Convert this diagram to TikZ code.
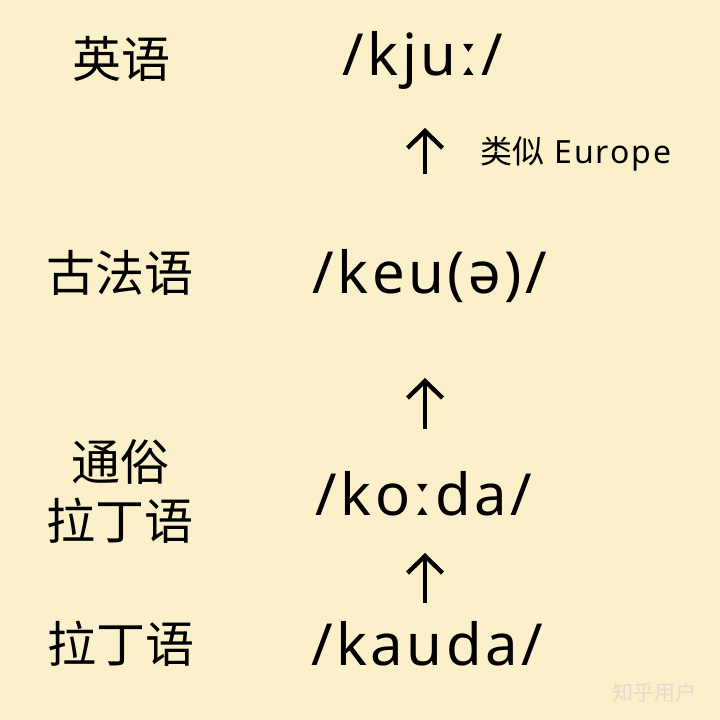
\documentclass[tikz,border=0pt]{standalone}
\usepackage{fontspec}
\setmainfont{Noto Sans}
\newfontfamily\ipafont[LetterSpace=6]{Noto Sans}
\newfontfamily\cjk{Noto Sans CJK SC}
\usetikzlibrary{arrows.meta,positioning}
\definecolor{paper}{RGB}{251,240,202}
\definecolor{mark}{RGB}{226,221,205}

\begin{document}
\begin{tikzpicture}[x=1pt,y=-1pt,
    lang/.style={font=\cjk\fontsize{49}{59}\selectfont,align=center,inner sep=0pt},
    ipa/.style={font=\ipafont\fontsize{58}{60}\selectfont,anchor=base,inner sep=0pt},
    upline/.style={line width=4.3pt,-{Straight Barb[length=17pt,width=35pt]}}]
    \fill[paper] (0,0) rectangle (720,720);
    \useasboundingbox (0,0) rectangle (720,720);
    % language names
    \node[lang] (en) at (121,59) {英语};
    \node[lang] (ofr) at (120,273) {古法语};
    \node[lang] (vlat) at (120,491) {通俗\\拉丁语};
    \node[lang] (lat) at (121,644) {拉丁语};
    % forms
    \node[ipa] (kju) at (423,75) {/kjuː/};
    \node[ipa] (keu) at (430,293) {/keu(ə)/};
    \node[ipa] (koda) at (424,515) {/koːda/};
    \node[ipa] (kauda) at (427,665) {/kauda/};
    % arrows
    \coordinate (a1s) at (425,174);
    \coordinate (a1e) at (425,128);
    \coordinate (a2s) at (425,429);
    \coordinate (a2e) at (425,378);
    \coordinate (a3s) at (425,603);
    \coordinate (a3e) at (425,553);
    \draw[upline] (a1s) -- (a1e);
    \draw[upline] (a2s) -- (a2e);
    \draw[upline] (a3s) -- (a3e);
    \node[anchor=base west,inner sep=0pt,font=\ipafont\fontsize{32}{34}\selectfont] (note) at (480,163) {{\cjk 类似} Europe};
    % watermark
    \node[anchor=base west,inner sep=0pt,text=mark,font=\cjk\fontsize{21}{22}\selectfont] (wm) at (612,700) {知乎用户};
\end{tikzpicture}
\end{document}
